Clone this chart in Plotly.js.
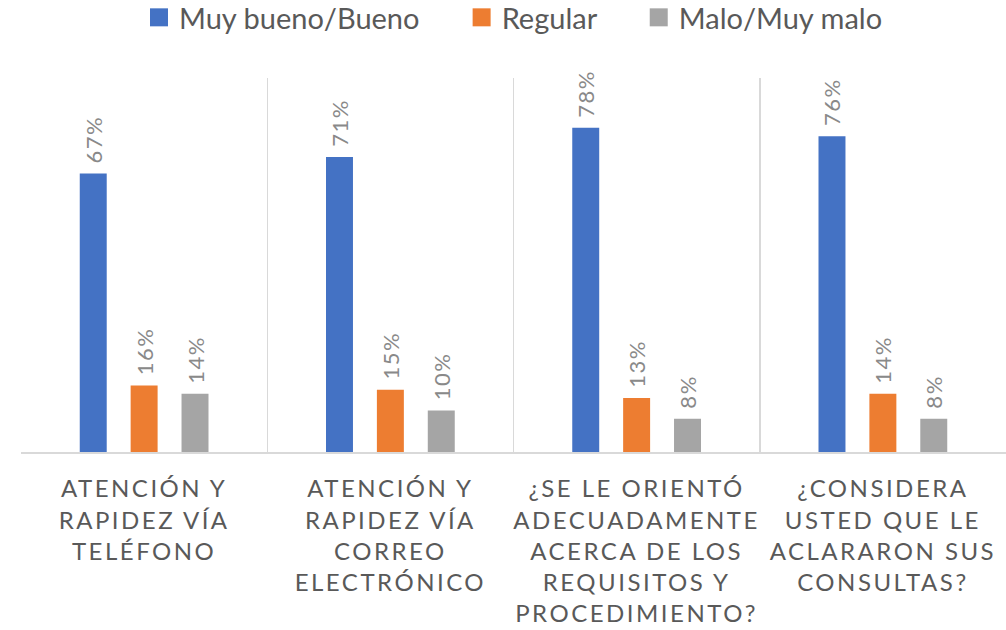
<!DOCTYPE html>
<html>
<head>
<meta charset="utf-8">
<script src="https://cdn.plot.ly/plotly-3.0.1.min.js"></script>
<style>
  html, body { margin: 0; padding: 0; background: #fff; }
  #chart { width: 1006px; height: 630px; }
  .xtick text { letter-spacing: 2.5px; }
  .bartext text, text.bartext { letter-spacing: 1.5px; }
</style>
</head>
<body>
<div id="chart"></div>
<script>
const categories = [
  "ATENCIÓN Y<br>RAPIDEZ VÍA<br>TELÉFONO",
  "ATENCIÓN Y<br>RAPIDEZ VÍA<br>CORREO<br>ELECTRÓNICO",
  "¿SE LE ORIENTÓ<br>ADECUADAMENTE<br>ACERCA DE LOS<br>REQUISITOS Y<br>PROCEDIMIENTO?",
  "¿CONSIDERA<br>USTED QUE LE<br>ACLARARON SUS<br>CONSULTAS?"
];
const seriesNames = ["Muy bueno/Bueno", "Regular", "Malo/Muy malo"];
const muyBueno = [0.67, 0.71, 0.78, 0.76];
const regular  = [0.16, 0.15, 0.13, 0.14];
const malo     = [0.14, 0.10, 0.08, 0.08];
const colors = ["#4472C4", "#ED7D31", "#A5A5A5"];

const FONT = "Lato, 'Open Sans', sans-serif";
const values = [muyBueno, regular, malo];
const legendPad = "\u00a0".repeat(5);
const traces = values.map((v, i) => ({
  type: "bar",
  name: seriesNames[i] + (i < seriesNames.length - 1 ? legendPad : ""),
  x: categories,
  y: v,
  marker: { color: colors[i] },
  texttemplate: "\u00a0%{y:.0%}",
  textposition: "outside",
  textangle: -90,
  constraintext: "none",
  cliponaxis: false,
  textfont: { family: FONT, size: 22, color: "#898989" },
  hoverinfo: "none"
}));

const layout = {
  width: 1006,
  height: 630,
  margin: { l: 21, r: 0, t: 78, b: 178, autoexpand: false },
  paper_bgcolor: "#ffffff",
  plot_bgcolor: "#ffffff",
  barmode: "group",
  bargap: 0.38,
  bargroupgap: 0.47,
  showlegend: true,
  legend: {
    orientation: "h",
    x: 0.5, xanchor: "center",
    y: 1.23, yanchor: "top",
    font: { family: FONT, size: 29, color: "#595959" },
    itemclick: false, itemdoubleclick: false
  },
  xaxis: {
    type: "category",
    tickson: "boundaries",
    showgrid: true,
    gridcolor: "#d9d9d9",
    gridwidth: 1.5,
    showline: true,
    linecolor: "#d9d9d9",
    linewidth: 1.5,
    ticks: "",
    ticklabelstandoff: 15,
    tickfont: { family: FONT, size: 24, color: "#595959" },
    fixedrange: true
  },
  yaxis: {
    range: [0, 0.9],
    visible: false,
    showgrid: false,
    zeroline: false,
    fixedrange: true
  }
};

Plotly.newPlot("chart", traces, layout, { displayModeBar: false, staticPlot: true }).then(() => {
  // enlarge legend swatches to match the reference's square keys
  document.querySelectorAll(".legendpoints path").forEach(p => {
    p.setAttribute("d", "M9,9H-9V-9H9Z");
  });
});
</script>
</body>
</html>
